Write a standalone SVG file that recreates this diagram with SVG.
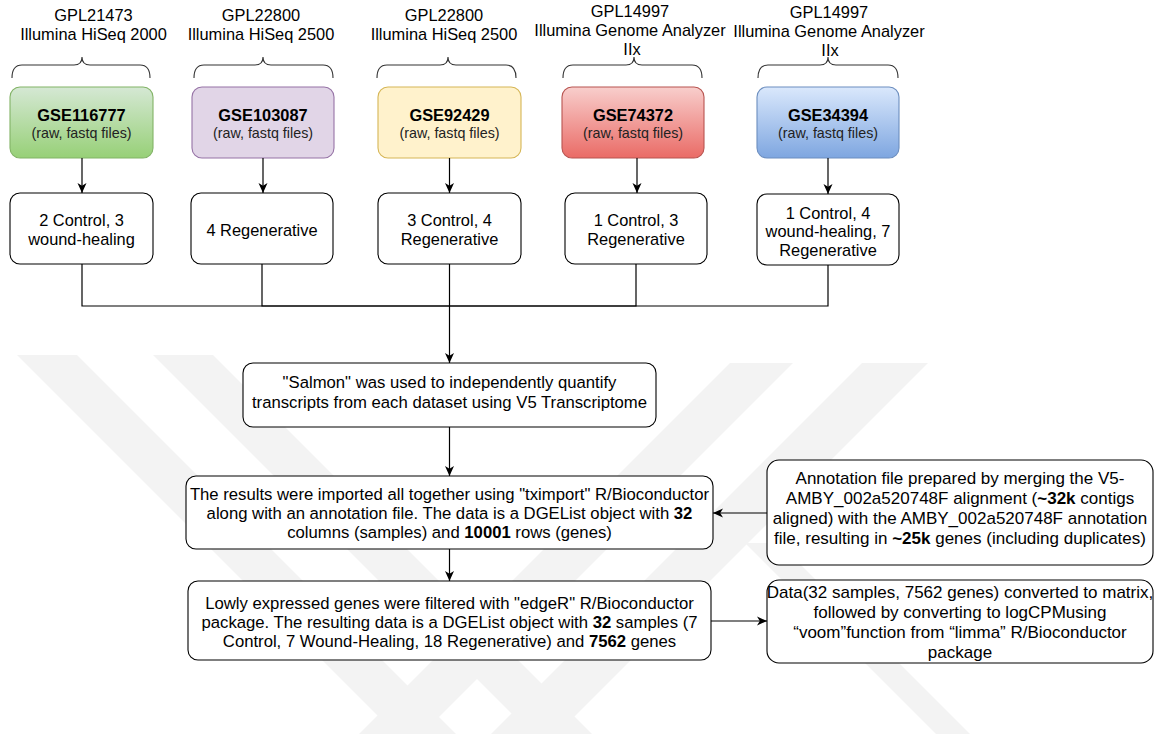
<svg xmlns="http://www.w3.org/2000/svg" width="1155" height="734" viewBox="0 0 1155 734">
<defs>
<style>
text{font-family:"Liberation Sans",Arial,Helvetica,sans-serif;fill:#000;}
.t{font-size:16.4px;text-anchor:middle;}
.m{font-size:16.7px;}
.r{font-size:17px;}
.b{font-weight:bold;}
.s{font-size:14.3px;text-anchor:middle;fill:#222;}
.box{fill:#fff;stroke:#000;stroke-width:1.1;}
.br{fill:none;stroke:#333;stroke-width:1.1;}
.c{fill:none;stroke:#000;stroke-width:1.2;}
.wm{fill:#f3f3f3;}
</style>
<linearGradient id="gG" x1="0" y1="0" x2="0" y2="1"><stop offset="0" stop-color="#d5e8d4"/><stop offset="1" stop-color="#97d077"/></linearGradient>
<linearGradient id="gR" x1="0" y1="0" x2="0" y2="1"><stop offset="0" stop-color="#f8cecc"/><stop offset="1" stop-color="#ea6b66"/></linearGradient>
<linearGradient id="gB" x1="0" y1="0" x2="0" y2="1"><stop offset="0" stop-color="#dae8fc"/><stop offset="1" stop-color="#7ea6e0"/></linearGradient>
<marker id="arr" markerUnits="userSpaceOnUse" markerWidth="11" markerHeight="11" refX="10" refY="5.5" orient="auto">
<path d="M0,1 L10,5.5 L0,10 L2.8,5.5 Z" fill="#000"/>
</marker>
</defs>
<rect width="1155" height="734" fill="#fff"/>
<g id="watermark">
<polygon class="wm" points="17,355 77,355 456,734 396,734"/>
<polygon class="wm" points="153,355 213,355 592,734 532,734"/>
<polygon class="wm" points="793,363 730,363 359,734 422,734"/>
<polygon class="wm" points="928,363 862,363 491,734 557,734"/>
<polygon class="wm" points="745,543 779,543 970,734 936,734"/>
<polygon class="wm" points="745,543 711,543 520,734 554,734"/>
</g>
<g id="labels">
<text class="t" x="93.5" y="21">GPL21473</text><text class="t" x="93.5" y="40">Illumina HiSeq 2000</text>
<text class="t" x="261" y="21">GPL22800</text><text class="t" x="261" y="40">Illumina HiSeq 2500</text>
<text class="t" x="444" y="21">GPL22800</text><text class="t" x="444" y="40">Illumina HiSeq 2500</text>
<text class="t" x="630" y="17">GPL14997</text><text class="t" x="630" y="36">Illumina Genome Analyzer</text><text class="t" x="632" y="55">IIx</text>
<text class="t" x="829" y="18">GPL14997</text><text class="t" x="829" y="37">Illumina Genome Analyzer</text><text class="t" x="830" y="56">IIx</text>
</g>
<g id="braces">
<path class="br" d="M12,78 Q12,65 22,65 L74,65 Q82,65 82,57 Q82,65 90,65 L140,65 Q150,65 150,78"/>
<path class="br" d="M194,78 Q194,65 204,65 L255,65 Q263,65 263,57 Q263,65 271,65 L323,65 Q333,65 333,78"/>
<path class="br" d="M377,78 Q377,65 387,65 L440,65 Q448,65 448,57 Q448,65 456,65 L506,65 Q516,65 516,78"/>
<path class="br" d="M563,78 Q563,65 573,65 L626,65 Q634,65 634,57 Q634,65 642,65 L692,65 Q702,65 702,78"/>
<path class="br" d="M758,78 Q758,65 768,65 L820,65 Q828,65 828,57 Q828,65 836,65 L888,65 Q898,65 898,78"/>
</g>
<g id="gse116777"><rect x="10" y="87" width="143" height="71" rx="10" fill="url(#gG)" stroke="#82b366" stroke-width="1.1"/><text class="t b" x="81.5" y="121">GSE116777</text><text class="s" x="81.5" y="137.5">(raw, fastq files)</text></g>
<g id="gse103087"><rect x="192" y="87" width="142" height="71" rx="10" fill="#e1d5e7" stroke="#9673a6" stroke-width="1.1"/><text class="t b" x="263" y="121">GSE103087</text><text class="s" x="263" y="137.5">(raw, fastq files)</text></g>
<g id="gse92429"><rect x="378" y="87" width="143" height="71" rx="10" fill="#fff2cc" stroke="#d6b656" stroke-width="1.1"/><text class="t b" x="449.5" y="121">GSE92429</text><text class="s" x="449.5" y="137.5">(raw, fastq files)</text></g>
<g id="gse74372"><rect x="562" y="87" width="142" height="71" rx="10" fill="url(#gR)" stroke="#b85450" stroke-width="1.1"/><text class="t b" x="633" y="121">GSE74372</text><text class="s" x="633" y="137.5">(raw, fastq files)</text></g>
<g id="gse34394"><rect x="757" y="87" width="142" height="71" rx="10" fill="url(#gB)" stroke="#6c8ebf" stroke-width="1.1"/><text class="t b" x="828" y="121">GSE34394</text><text class="s" x="828" y="137.5">(raw, fastq files)</text></g>
<g id="samples1"><rect class="box" x="10" y="193" width="143" height="71" rx="10"/><text class="t" x="81.5" y="226">2 Control, 3</text><text class="t" x="81.5" y="245">wound-healing</text></g>
<g id="samples2"><rect class="box" x="191" y="193" width="142" height="71" rx="10"/><text class="t" x="262" y="235.5">4 Regenerative</text></g>
<g id="samples3"><rect class="box" x="378" y="193" width="143" height="71" rx="10"/><text class="t" x="449.5" y="226">3 Control, 4</text><text class="t" x="449.5" y="245">Regenerative</text></g>
<g id="samples4"><rect class="box" x="565" y="193" width="142" height="71" rx="10"/><text class="t" x="636" y="226">1 Control, 3</text><text class="t" x="636" y="245">Regenerative</text></g>
<g id="samples5"><rect class="box" x="757" y="194" width="142" height="71" rx="10"/><text class="t" x="828" y="218.5">1 Control, 4</text><text class="t" x="828" y="237">wound-healing, 7</text><text class="t" x="828" y="255.5">Regenerative</text></g>
<g id="salmon"><rect class="box" x="243" y="363" width="413" height="64" rx="10"/><text class="t m" x="449.5" y="388">"Salmon" was used to independently quantify</text><text class="t m" x="449.5" y="408">transcripts from each dataset using V5 Transcriptome</text></g>
<g id="tximport"><rect class="box" x="186" y="476" width="527" height="73" rx="10"/><text class="t m" x="449.5" y="500">The results were imported all together using "tximport" R/Bioconductor</text><text class="t m" x="449.5" y="519">along with an annotation file. The data is a DGEList object with <tspan class="b">32</tspan></text><text class="t m" x="449.5" y="538">columns (samples) and <tspan class="b">10001</tspan> rows (genes)</text></g>
<g id="annotation"><rect class="box" x="767" y="460" width="386" height="105" rx="12"/><text class="t r" x="960" y="484">Annotation file prepared by merging the V5-</text><text class="t r" x="960" y="504">AMBY_002a520748F alignment (<tspan class="b">~32k</tspan> contigs</text><text class="t r" x="960" y="524">aligned) with the AMBY_002a520748F annotation</text><text class="t r" x="960" y="544">file, resulting in <tspan class="b">~25k</tspan> genes (including duplicates)</text></g>
<g id="edger"><rect class="box" x="188" y="581" width="523" height="79" rx="10"/><text class="t m" x="449.5" y="609">Lowly expressed genes were filtered with "edgeR" R/Bioconductor</text><text class="t m" x="449.5" y="628">package. The resulting data is a DGEList object with <tspan class="b">32</tspan> samples (7</text><text class="t m" x="449.5" y="647">Control, 7 Wound-Healing, 18 Regenerative) and <tspan class="b">7562</tspan> genes</text></g>
<g id="voom"><rect class="box" x="767" y="580" width="386" height="83" rx="12"/><text class="t r" x="960" y="598">Data(32 samples, 7562 genes) converted to matrix,</text><text class="t r" x="960" y="618">followed by converting to logCPMusing</text><text class="t r" x="960" y="638">“voom”function from “limma” R/Bioconductor</text><text class="t r" x="960" y="658">package</text></g>
<g id="connectors">
<path class="c" d="M82,158 V193" marker-end="url(#arr)"/>
<path class="c" d="M263,158 V193" marker-end="url(#arr)"/>
<path class="c" d="M449.5,158 V193" marker-end="url(#arr)"/>
<path class="c" d="M637,158 V193" marker-end="url(#arr)"/>
<path class="c" d="M828,158 V194" marker-end="url(#arr)"/>
<path class="c" d="M82,264 V306 H449.5"/>
<path class="c" d="M262,264 V306 H449.5"/>
<path class="c" d="M636,264 V306 H449.5"/>
<path class="c" d="M828,265 V306 H449.5"/>
<path class="c" d="M449.5,264 V363" marker-end="url(#arr)"/>
<path class="c" d="M449.5,427 V476" marker-end="url(#arr)"/>
<path class="c" d="M449.5,549 V581" marker-end="url(#arr)"/>
<path class="c" d="M767,513 H713" marker-end="url(#arr)"/>
<path class="c" d="M711,621 H767" marker-end="url(#arr)"/>
</g>
</svg>
